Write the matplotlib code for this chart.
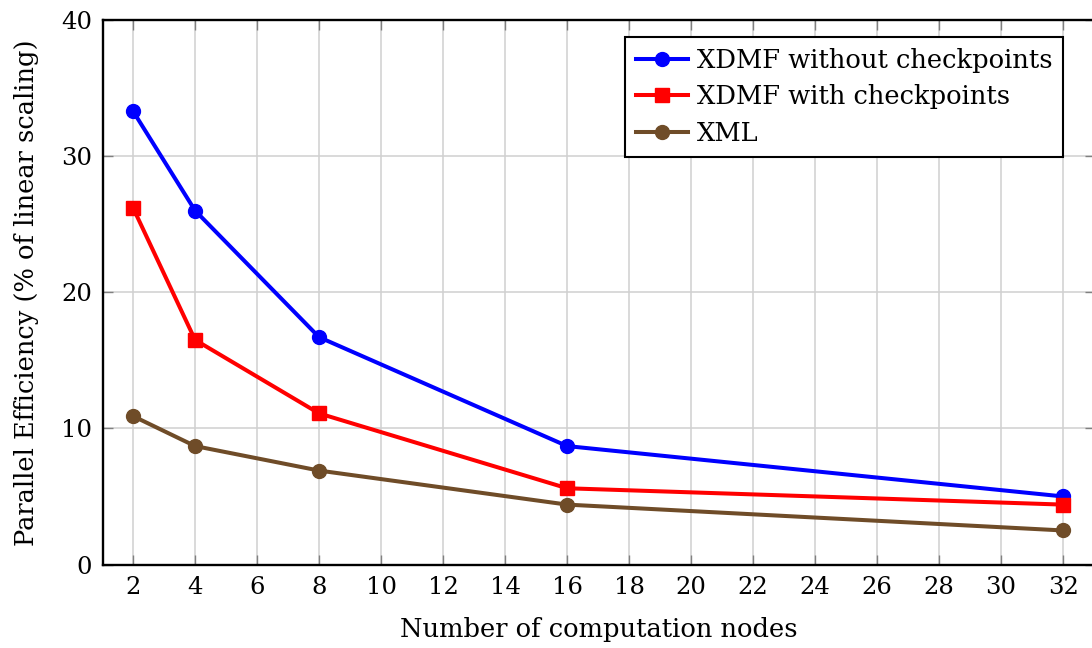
import matplotlib.pyplot as plt
import numpy as np

plt.rcParams['font.family'] = ['DejaVu Serif']
plt.rcParams['mathtext.fontset'] = 'dejavuserif'

nodes = [2, 4, 8, 16, 32]
xdmf_no_ckpt = [33.3, 26.0, 16.7, 8.7, 5.0]
xdmf_ckpt = [26.2, 16.5, 11.1, 5.6, 4.4]
xml = [10.9, 8.7, 6.9, 4.4, 2.5]

fig = plt.figure(figsize=(10.92, 6.48), dpi=100)
ax = fig.add_axes([103/1092, 1 - 564.5/648, (1095 - 103)/1092, (564.5 - 20)/648])

ax.plot(nodes, xdmf_no_ckpt, label='XDMF without checkpoints', color='#0000ff',
        marker='o', markersize=10, linewidth=2.9)
ax.plot(nodes, xdmf_ckpt, label='XDMF with checkpoints', color='#ff0000',
        marker='s', markersize=10, linewidth=2.9)
ax.plot(nodes, xml, label='XML', color='#6f4c28',
        marker='o', markersize=10, linewidth=2.9)

ax.set_xlim(1.03, 33.03)
ax.set_ylim(0, 40)
ax.set_xticks(np.arange(2, 33, 2))
ax.set_yticks([0, 10, 20, 30, 40])
ax.tick_params(direction='in', length=7, width=1.0, color='#808080',
               top=True, right=True, labelsize=17.5, pad=8)
ax.grid(True, color='#d0d0d0', linewidth=1.1)
ax.set_axisbelow(True)
for s in ax.spines.values():
    s.set_linewidth(1.7)

ax.set_xlabel('Number of computation nodes', fontsize=18.5, labelpad=13)
ax.set_ylabel('Parallel Efficiency (% of linear scaling)', fontsize=18.5, labelpad=16)

leg = ax.legend(loc='upper right', bbox_to_anchor=(1063/1092, 1 - 37/648),
                bbox_transform=fig.transFigure, fontsize=18.5,
                fancybox=False, framealpha=1, edgecolor='black',
                handlelength=2.0, handletextpad=0.35, labelspacing=0.45,
                borderpad=0.42, borderaxespad=0)
leg.get_frame().set_linewidth(1.5)

fig.savefig('out.png', dpi=100)
